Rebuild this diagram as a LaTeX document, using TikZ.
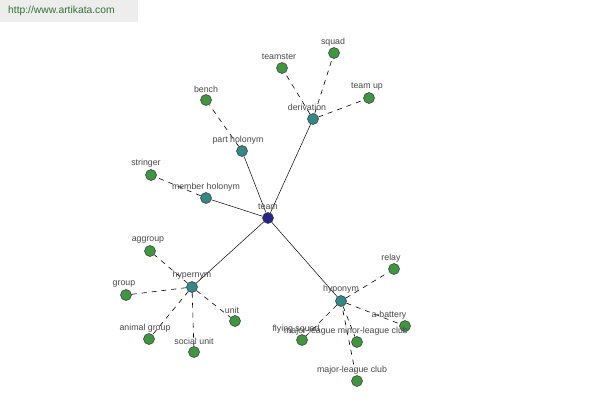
\documentclass[tikz,border=0pt]{standalone}
\usepackage{fontspec}
\setmainfont{Liberation Sans}
\begin{document}
\begin{tikzpicture}[x=1pt,y=-1pt,
  dot/.style={circle,draw=black!80,line width=0.5pt,minimum size=11pt,inner sep=0pt},
  leaf/.style={dot,fill=green!45!black!75},
  mid/.style={dot,fill=teal!75!white!85!black},
  root/.style={dot,fill=blue!45!black!85},
  lbl/.style={font=\fontsize{8.8}{9}\selectfont,text=black!72,inner sep=0pt},
  sol/.style={draw=black,line width=0.5pt},
  dsh/.style={draw=black,line width=0.6pt,dash pattern=on 5pt off 5pt,shorten <=4pt,shorten >=4pt}]
\useasboundingbox (0,0) rectangle (600,400);
\fill[black!7] (0,0) rectangle (138,22);
\node[font=\fontsize{10.3}{11}\selectfont,text=green!30!black!80,anchor=west,inner sep=0pt] (url) at (8,11) {http://www.artikata.com};
% nodes
\node[root] (team) at (268,218) {};
\node[mid] (der) at (313,119) {};
\node[mid] (ph) at (242,151) {};
\node[mid] (mh) at (206,198) {};
\node[mid] (hyper) at (192,287) {};
\node[mid] (hypo) at (341,301) {};
\node[leaf] (teamster) at (282,68) {};
\node[leaf] (squad) at (334,53) {};
\node[leaf] (teamup) at (369,98) {};
\node[leaf] (bench) at (206,100) {};
\node[leaf] (stringer) at (151,175) {};
\node[leaf] (aggroup) at (150,251) {};
\node[leaf] (group) at (126,295) {};
\node[leaf] (animal) at (149,339) {};
\node[leaf] (social) at (194,352) {};
\node[leaf] (unit) at (235,321) {};
\node[leaf] (relay) at (394,269) {};
\node[leaf] (abat) at (405,326) {};
\node[leaf] (flying) at (302,340) {};
\node[leaf] (minor) at (357,342) {};
\node[leaf] (major) at (357,381) {};
% edges
\path[sol] (team) -- (der) (team) -- (ph) (team) -- (mh) (team) -- (hyper) (team) -- (hypo);
\path[dsh] (der) -- (teamster) (der) -- (squad) (der) -- (teamup)
  (ph) -- (bench) (mh) -- (stringer)
  (hyper) -- (aggroup) (hyper) -- (group) (hyper) -- (animal) (hyper) -- (social) (hyper) -- (unit)
  (hypo) -- (relay) (hypo) -- (abat) (hypo) -- (flying) (hypo) -- (minor) (hypo) -- (major);
% labels
\node[lbl] (l1) at (268,207) {team};
\node[lbl] (l2) at (307,107) {derivation};
\node[lbl] (l3) at (238,140) {part holonym};
\node[lbl] (l4) at (206,187) {member holonym};
\node[lbl] (l5) at (192,275) {hypernym};
\node[lbl] (l6) at (341,289) {hyponym};
\node[lbl] (l7) at (279,57) {teamster};
\node[lbl] (l8) at (333,42) {squad};
\node[lbl] (l9) at (367,87) {team up};
\node[lbl] (l10) at (206,89) {bench};
\node[lbl] (l11) at (146,163) {stringer};
\node[lbl] (l12) at (148,240) {aggroup};
\node[lbl] (l13) at (124,284) {group};
\node[lbl] (l14) at (145,328) {animal group};
\node[lbl] (l15) at (194,341) {social unit};
\node[lbl] (l16) at (232,310) {unit};
\node[lbl] (l17) at (391,258) {relay};
\node[lbl] (l18) at (389,315) {a-battery};
\node[lbl] (l19) at (296,329) {flying squad};
\node[lbl] (l20) at (346,331) {major-league minor-league club};
\node[lbl] (l21) at (352,370) {major-league club};
\end{tikzpicture}
\end{document}
